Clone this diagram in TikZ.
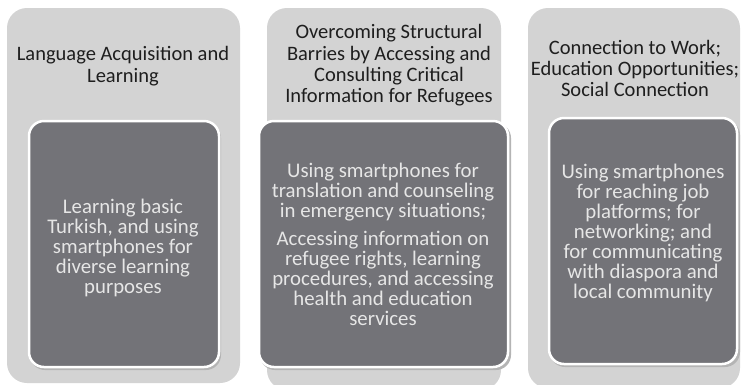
\documentclass[tikz,border=0pt]{standalone}
\usepackage{fontspec}
\setmainfont{Carlito}
\definecolor{panelgray}{RGB}{211,211,211}
\definecolor{cardgray}{RGB}{115,115,120}
\definecolor{cardtext}{RGB}{230,230,230}
\definecolor{titletext}{RGB}{30,30,30}
\definecolor{shadowgray}{RGB}{180,180,180}
\begin{document}
\begin{tikzpicture}[x=1pt,y=-1pt,
  panel/.style={fill=panelgray, rounded corners=20pt},
  card/.style={fill=cardgray, draw=white, line width=2.5pt, rounded corners=15pt},
  cardshadow/.style={fill=shadowgray, rounded corners=15pt},
  title/.style={text=titletext, align=center, inner sep=0pt, font=\fontsize{20.5}{21.3}\selectfont},
  body/.style={text=cardtext, align=center, inner sep=0pt, font=\fontsize{20.8}{20}\selectfont}]
\useasboundingbox (0,0) rectangle (750,384);
\fill[white] (0,0) rectangle (750,384);

% background panels
\path[panel] (7,8) rectangle (240,383);
\path[panel] (267,8) rectangle (501,390);
\path[panel] (528,8) rectangle (740,388);

% cards with a soft drop shadow
\path[cardshadow] (30,123) rectangle (221,370);
\path[card] (29,121) rectangle (219,367);
\path[cardshadow] (260,123) rectangle (511,370);
\path[card] (259,121) rectangle (508,367);
\path[cardshadow] (550,120) rectangle (740,367);
\path[card] (549,118) rectangle (737,364);

% column headings
\node[title] (t1) at (123,66) {Language Acquisition and\\Learning};
\node[title] (t2) at (389,65.5) {Overcoming Structural\\Barries by Accessing and\\Consulting Critical\\Information for Refugees};
\node[title] (t3) at (635,68.5) {Connection to Work;\\Education Opportunities;\\Social Connection};

% card texts
\node[body] (b1) at (123,248) {Learning basic\\Turkish, and using\\smartphones for\\diverse learning\\purposes};
\node[body] (b2) at (383,244) {Using smartphones for\\translation and counseling\\in emergency situations;\\[8pt]Accessing information on\\refugee rights, learning\\procedures, and accessing\\health and education\\services};
\node[body] (b3) at (643,233) {Using smartphones\\for reaching job\\platforms; for\\networking; and\\for communicating\\with diaspora and\\local community};
\end{tikzpicture}
\end{document}
